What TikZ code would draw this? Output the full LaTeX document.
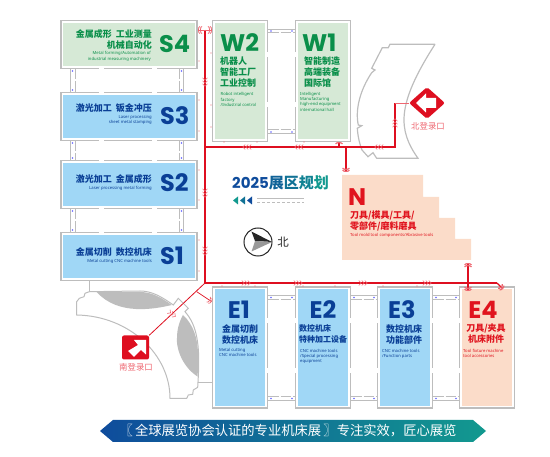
\documentclass[tikz,border=0pt]{standalone}
\usepackage{fontspec}
\setmainfont{Noto Sans}
\newfontfamily\cjkfont{Noto Sans CJK SC}
\newfontfamily\bigfont{Poppins}
\usetikzlibrary{arrows.meta,positioning,calc,shapes.geometric}
\definecolor{hallgrey}{HTML}{BDBDBD}
\definecolor{routered}{HTML}{DE0F20}
\definecolor{tipred}{HTML}{EE6670}
\definecolor{greenfill}{HTML}{D6E9D6}
\definecolor{bluefill}{HTML}{A0D7F6}
\definecolor{peachfill}{HTML}{FBDCC9}
\definecolor{greentext}{HTML}{0A8F4A}
\definecolor{bluetext}{HTML}{0A3F96}
\definecolor{redtext}{HTML}{E0141E}
\definecolor{bannerblue}{HTML}{0F4C9C}
\definecolor{bannerteal}{HTML}{12998F}
\begin{document}
\begin{tikzpicture}[
  x=1pt, y=-1pt,
  hall/.style={rectangle, preaction={draw=hallgrey, line width=4.4pt}, draw=white, line width=1.6pt, outer sep=2pt, inner sep=0pt},
  hallwide/.style={hall, minimum width=133pt, minimum height=45pt},
  halltall/.style={hall, minimum width=52pt, minimum height=118pt},
  bigid/.style={font=\bigfont\bfseries\fontsize{24}{24}\selectfont, inner sep=0pt},
  cnlabel/.style={font=\cjkfont\bfseries\fontsize{9}{11}\selectfont, inner sep=0pt},
  enlabel/.style={font=\fontsize{4.2}{5.3}\selectfont, inner sep=0pt},
  wall/.style={draw=hallgrey, line width=1pt},
  walldash/.style={wall, dash pattern=on 10.5pt off 2pt},
  route/.style={draw=routered, line width=1.2pt},
  tipped/.style={draw=tipred, line width=.8pt},
  gatelabel/.style={font=\cjkfont\fontsize{8.4}{10}\selectfont, text=tipred, inner sep=0pt},
  flowmark/.pic={\foreach \m in {-3,0,3} \draw[tipred, line width=.6pt] (\m-1.2,-2.4) -- (\m+1.2,0) -- (\m-1.2,2.4);}
]
\useasboundingbox (0,0) rectangle (550,457);

\node[hallwide, fill=greenfill] (S4) at (129,44.5) {};
\node[hallwide, fill=bluefill, below=23pt of S4] (S3) {};
\node[hallwide, fill=bluefill, below=19pt of S3] (S2) {};
\node[hallwide, fill=bluefill, below=23pt of S2] (S1) {};
\node[halltall, fill=greenfill] (W2) at (240,81) {};
\node[halltall, fill=greenfill, right=27pt of W2] (W1) {};
\node[halltall, fill=bluefill] (E1) at (240,347.5) {};
\node[halltall, fill=bluefill, right=27pt of E1] (E2) {};
\node[halltall, fill=bluefill, right=26pt of E2] (E3) {};
\node[halltall, fill=peachfill, right=26pt of E3] (E4) {};

\foreach \upper/\lower in {S4/S3,S3/S2,S2/S1} {
  \draw[wall] ($(\upper.south west)+(10,0)$) -- ($(\lower.north west)+(10,0)$);
  \draw[walldash] ($(\upper.south west)+(14.5,0)$) -- ($(\lower.north west)+(14.5,0)$);
  \draw[wall] ($(\upper.south east)+(-14,0)$) -- ($(\lower.north east)+(-14,0)$);
  \draw[walldash] ($(\upper.south east)+(-18.5,0)$) -- ($(\lower.north east)+(-18.5,0)$);
  \fill[white] ($(\upper.south west)+(38,-2)$) rectangle ++(5,2);
  \fill[white] ($(\upper.south west)+(91,-2)$) rectangle ++(5,2);
  \fill[white] ($(\lower.north west)+(38,0)$) rectangle ++(5,2);
  \fill[white] ($(\lower.north west)+(91,0)$) rectangle ++(5,2);
  \fill[blue!60] ($(\upper.south west)+(12,2)$) circle (.8);
  \fill[blue!60] ($(\lower.north west)+(12,-2)$) circle (.8);
  \fill[blue!60] ($(\upper.south east)+(-16,2)$) circle (.8);
  \fill[blue!60] ($(\lower.north east)+(-16,-2)$) circle (.8);
}
\foreach \lefthall/\righthall in {W2/W1,E1/E2,E2/E3,E3/E4} {
  \draw[wall] ($(\lefthall.north east)+(0,9.5)$) -- ($(\righthall.north west)+(0,9.5)$);
  \draw[walldash] ($(\lefthall.north east)+(0,13)$) -- ($(\righthall.north west)+(0,13)$);
  \draw[wall] ($(\lefthall.south east)+(0,-8)$) -- ($(\righthall.south west)+(0,-8)$);
  \draw[walldash] ($(\lefthall.south east)+(0,-12)$) -- ($(\righthall.south west)+(0,-12)$);
  \fill[white] ($(\lefthall.north east)+(-2,32)$) rectangle ++(2,5);
  \fill[white] ($(\righthall.north west)+(0,32)$) rectangle ++(2,5);
  \fill[white] ($(\lefthall.south east)+(-2,-40)$) rectangle ++(2,5);
  \fill[white] ($(\righthall.south west)+(0,-40)$) rectangle ++(2,5);
  \fill[blue!60] ($(\lefthall.north east)+(3,11)$) circle (.8);
  \fill[blue!60] ($(\righthall.north west)+(-3,11)$) circle (.8);
  \fill[blue!60] ($(\lefthall.south east)+(3,-10)$) circle (.8);
  \fill[blue!60] ($(\righthall.south west)+(-3,-10)$) circle (.8);
}

\draw[hallgrey, line width=1.2pt] (435,44.3) -- (390,44.3) -- (388.3,47.7) -- (382.3,47.7) -- (371.7,68.3) -- (375,70) -- (371.7,72.7) .. controls (360,90) and (355,110) .. (358.3,125) -- (361.7,125.7) -- (357.3,128.3) .. controls (358,138) and (360,145) .. (362,150) -- (368,156.7) -- (373,152.7) -- (376.7,158.3) -- (418,158.3) .. controls (398,130) and (396,105) .. (435,44.3);

\draw[wall] (S1.south -| 89.3,0) -- (89.3,292);
\draw[wall] (198,383) -- (198,383 -| E1.west);
\draw[hallgrey, fill=white, line width=1pt] (89.3,291.7) -- (85,293.3) -- (84,296.7) -- (79.3,298.3) -- (76.7,301.7) -- (76.7,315) .. controls (130,316) and (170,355) .. (170,398.3) -- (186.7,398.3) -- (188.3,395) -- (192.7,394.3) -- (193.3,390) -- (197.7,387.3) -- (198.3,376.7) .. controls (200,345) and (197,325) .. (185,311.7) -- (188.3,308.3) -- (178.3,298.3) -- (173.3,305) .. controls (162,297) and (152,291) .. (140,291) -- cycle;
\fill[hallgrey] (96.7,292) -- (140,292) .. controls (152,292) and (162,298) .. (171.7,305) .. controls (155,309) and (118,316) .. (96.7,292);
\fill[hallgrey] (183,315) .. controls (194,325) and (198,340) .. (198,355) -- (197.7,376.7) .. controls (180,365) and (176,345) .. (177,338) .. controls (177,330) and (179,322) .. (183,315);

\fill[peachfill] (342,175) -- (423,175) -- (423,197) -- (439,197) -- (439,218) -- (455,218) -- (455,239) -- (471,239) -- (471,260) -- (342,260) -- cycle;

\node[diamond, aspect=1.1, fill=routered, minimum width=36pt, minimum height=32pt, inner sep=0pt, rounded corners=2pt] (gateN) at (427,103) {};
\fill[white] (416,103) -- (426,93.5) -- (426,98) -- (436,98) -- (436,108) -- (426,108) -- (426,112.5) -- cycle;
\node[rectangle, fill=routered, rounded corners=2pt, minimum width=27pt, minimum height=24pt, inner sep=0pt] (gateS) at (135.5,347.5) {};
\fill[white] (146,340) -- (134,340) -- (138,345) -- (128,351) -- (134,357) -- (141,350) -- (146,354.5) -- cycle;
\node[gatelabel] (gateNlabel) at (428,126) {北登录口};
\node[gatelabel] (gateSlabel) at (136,367) {南登录口};

\coordinate (topend) at (205,30);
\coordinate (cornerN) at (205,147);
\coordinate (cornerS) at (205,283);
\coordinate (eastend) at (497,283);
\coordinate (northturn) at (395,147);
\coordinate (northup) at (395,103);
\coordinate (Ntap) at (346,147);
\coordinate (Ntop) at (346,172);
\coordinate (Eup) at (468,263);
\coordinate (Edown) at (468,291);
\coordinate (split) at (196.7,291.7);
\coordinate (splitend) at (211.7,301.7);
\draw[route] (topend) -- (cornerS) -- (eastend);
\draw[route] (cornerN) -- (northturn) -- (northup);
\draw[tipped] (northup) -- (gateN.west);
\draw[route, line width=.8pt] (cornerS) -- (gateS.north east);
\draw[route, line width=.7pt, -{Arc Barb[tipred, width=7pt, length=2pt] Arc Barb[tipred, width=7pt, length=2pt]}] (split) -- (splitend);
\draw[route, -{Arc Barb[tipred, width=8pt, length=2pt] Arc Barb[tipred, width=8pt, length=2pt]}] (Ntap) -- (Ntop);
\draw[route, {Arc Barb[tipred, width=8pt, length=2pt] Arc Barb[tipred, width=8pt, length=2pt]}-{Arc Barb[tipred, width=8pt, length=2pt] Arc Barb[tipred, width=8pt, length=2pt]}] (Eup) -- (Edown);
\draw[route, -{Arc Barb[tipred, width=7pt, length=2pt] Arc Barb[tipred, width=7pt, length=2pt]}] (eastend) -- ++(6,6);
\draw[route, -{Arc Barb[tipred, width=8pt, length=2pt]}] (339,147) -- (339,142);
\draw[tipped, -{Arc Barb[width=8pt, length=2pt] Arc Barb[width=8pt, length=2pt]}] (topend) -- ++(-7,0);
\draw[tipped, -{Arc Barb[width=8pt, length=2pt] Arc Barb[width=8pt, length=2pt]}] (topend) -- ++(7,0);

\foreach \y in {82,193,251} \pic[rotate=-90] at (205,\y) {flowmark};
\pic[rotate=90] at (395,123) {flowmark};
\foreach \x in {247,299,379} \pic[rotate=180] at (\x,147) {flowmark};
\foreach \x in {246,298,363,427} \pic at (\x,283) {flowmark};
\pic[rotate=-37] at (172,314) {flowmark};
\foreach \y in {61,100,131,170,200,240,271} \fill[tipred] (199,\y) circle (.7);
\foreach \y in {53,105,127} \fill[tipred] (211,\y) circle (.7);
\foreach \x in {224,257,304} \fill[tipred] (\x,142) circle (.7);
\foreach \x in {222,255,303,335,383,417} \fill[tipred] (\x,286) circle (.7);

\node[bigid, text=greentext, anchor=west] (S4id) at (159,44) {S4};
\node[bigid, text=bluetext, anchor=west] (S3id) at (160,116) {S3};
\node[bigid, text=bluetext, anchor=west] (S2id) at (160,183) {S2};
\node[bigid, text=bluetext, anchor=west] (S1id) at (160,256) {S1};
\node[cnlabel, text=greentext, align=right, anchor=north east] (S4cn) at (152,29.5) {金属成形\hspace{4pt}工业测量\\机械自动化};
\node[enlabel, text=greentext, align=right, anchor=north east] (S4en) at (151,51.5) {Metal forming/Automation of\\industrial measuring machinery};
\node[cnlabel, text=bluetext, align=right, anchor=north east] (S3cn) at (152,103.5) {激光加工\hspace{4pt}钣金冲压};
\node[enlabel, text=bluetext, align=right, anchor=north east] (S3en) at (152,115) {Laser processing\\sheet metal stamping};
\node[cnlabel, text=bluetext, align=right, anchor=north east] (S2cn) at (152,174.5) {激光加工\hspace{4pt}金属成形};
\node[enlabel, text=bluetext, align=right, anchor=north east] (S2en) at (152,186) {Laser processing metal forming};
\node[cnlabel, text=bluetext, align=right, anchor=north east] (S1cn) at (152,247.5) {金属切削\hspace{4pt}数控机床};
\node[enlabel, text=bluetext, align=right, anchor=north east] (S1en) at (152,259) {Metal cutting CNC machine tools};

\node[bigid, text=greentext, anchor=west] (W2id) at (220,43) {W2};
\node[bigid, text=greentext, anchor=west] (W1id) at (302,43) {W1};
\node[cnlabel, text=greentext, align=left, anchor=north west] (W2cn) at (220,57) {机器人\\智能工厂\\工业控制};
\node[cnlabel, text=greentext, align=left, anchor=north west] (W1cn) at (304,57) {智能制造\\高端装备\\国际馆};
\node[enlabel, text=greentext, align=left, anchor=north west] (W2en) at (220.5,92.5) {Robot intelligent\\factory\\/Industrial control};
\node[enlabel, text=greentext, align=left, anchor=north west] (W1en) at (300,92) {Intelligent\\Manufacturing\\high-end equipment\\international hall};

\node[bigid, text=redtext, anchor=west] (Nid) at (348,197) {N};
\node[cnlabel, text=redtext, align=left, anchor=north west] (Ncn) at (350,211) {刀具/模具/工具/\\零部件/磨料磨具};
\node[enlabel, text=redtext, anchor=west] (Nen) at (350,235) {Tool mold tool components/Abrasive tools};

\node[bigid, text=bluetext] (E1id) at (239,310) {E1};
\node[bigid, text=bluetext] (E2id) at (323,310) {E2};
\node[bigid, text=bluetext] (E3id) at (402,310) {E3};
\node[bigid, text=redtext] (E4id) at (483,310) {E4};
\node[cnlabel, text=bluetext, align=center, anchor=north] (E1cn) at (240,324) {金属切削\\数控机床};
\node[cnlabel, text=bluetext, align=left, anchor=north west, font=\cjkfont\bfseries\fontsize{8}{11}\selectfont] (E2cn) at (299,324.5) {数控机床\\特种加工设备};
\node[cnlabel, text=bluetext, align=center, anchor=north] (E3cn) at (404,324) {数控机床\\功能部件};
\node[cnlabel, text=redtext, align=center, anchor=north] (E4cn) at (486,324) {刀具/夹具\\机床附件};
\node[enlabel, text=bluetext, align=left, anchor=north west] (E1en) at (219,348) {Metal cutting\\CNC machine tools};
\node[enlabel, text=bluetext, align=left, anchor=north west] (E2en) at (300,349) {CNC machine tools\\/Special processing\\equipment};
\node[enlabel, text=bluetext, align=left, anchor=north west] (E3en) at (382,349) {CNC machine tools\\/Function parts};
\node[enlabel, text=redtext, align=left, anchor=north west] (E4en) at (463,349) {Tool fixture machine\\tool accessories};

\node[inner sep=0pt, font=\fontsize{15}{16}\selectfont, anchor=west] (plantitle) at (232,183) {\textcolor{bannerblue}{\bigfont\bfseries 2025}\cjkfont\bfseries\textcolor{bannerblue!70!bannerteal}{展}\textcolor{bannerblue!50!bannerteal}{区}\textcolor{bannerblue!30!bannerteal}{规}\textcolor{bannerteal}{划}};
\fill[bannerteal] (233,200.5) -- (238,196.5) -- (238,204.5) -- cycle;
\fill[bannerblue!50!bannerteal] (240,200.5) -- (245,196.5) -- (245,204.5) -- cycle;
\fill[bannerblue] (247,200.5) -- (252,196.5) -- (252,204.5) -- cycle;
\draw[hallgrey, line width=.7pt] (257,198) -- (304,198);
\draw[hallgrey, line width=.7pt, densely dashed] (257,202) -- (304,202);

\draw[black!85, fill=white, line width=1pt] (258,242) circle (14);
\fill[black!85] (251.5,231.5) -- (272,242) -- (255,241) -- cycle;
\fill[black!40] (251.5,251.5) -- (272,242) -- (255,241) -- cycle;
\node[inner sep=0pt, text=black!85, font=\cjkfont\fontsize{11.5}{12}\selectfont] (northmark) at (283,242) {北};

\shade[left color=bannerblue, right color=bannerteal] (100,431) -- (113,420) -- (473,420) -- (486,431) -- (473,442) -- (113,442) -- cycle;
\node[inner sep=0pt, text=white, font=\cjkfont\fontsize{13.3}{14}\selectfont] (bannertext) at (288,431) {〖\,全球展览协会认证的专业机床展\,〗专注实效，匠心展览};
\end{tikzpicture}
\end{document}
